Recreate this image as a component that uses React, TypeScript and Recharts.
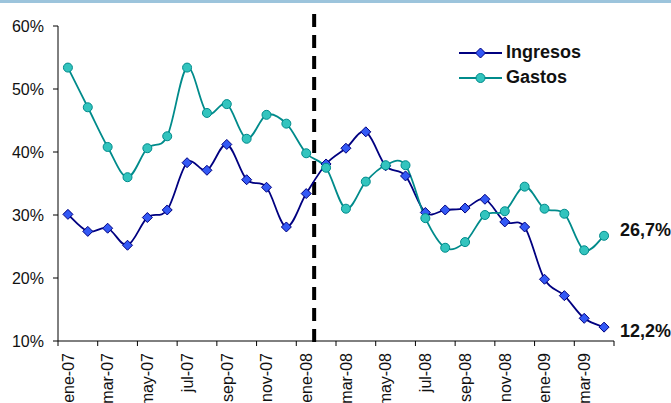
import React from 'react';
import {
  LineChart,
  Line,
  XAxis,
  YAxis,
  ReferenceLine,
  Legend,
  LabelList,
} from 'recharts';

// Monthly categories, ene-07 .. abr-09
const MONTHS = [
  'ene-07', 'feb-07', 'mar-07', 'abr-07', 'may-07', 'jun-07', 'jul-07', 'ago-07',
  'sep-07', 'oct-07', 'nov-07', 'dic-07', 'ene-08', 'feb-08', 'mar-08', 'abr-08',
  'may-08', 'jun-08', 'jul-08', 'ago-08', 'sep-08', 'oct-08', 'nov-08', 'dic-08',
  'ene-09', 'feb-09', 'mar-09', 'abr-09',
];

// Series values, in percent
const INGRESOS = [
  30.1, 27.4, 27.9, 25.2, 29.6, 30.8, 38.3, 37.1, 41.2, 35.6, 34.4, 28.1, 33.4, 38.1,
  40.6, 43.2, 37.8, 36.2, 30.4, 30.8, 31.1, 32.5, 28.9, 28.1, 19.8, 17.2, 13.6, 12.2,
];
const GASTOS = [
  53.4, 47.1, 40.8, 36.0, 40.6, 42.5, 53.4, 46.2, 47.6, 42.1, 45.9, 44.5, 39.8, 37.5,
  31.0, 35.3, 37.9, 37.9, 29.5, 24.8, 25.7, 30.0, 30.6, 34.5, 31.0, 30.2, 24.4, 26.7,
];

const Y_TICKS = [10, 20, 30, 40, 50, 60];
// Boundary between the two periods (category units)
const BREAK_POS = 12.9;

const FONT = '"Liberation Sans", Arial, sans-serif';
const NAVY = '#000080';
const BLUE_FILL = '#3359F5';
const TEAL = '#008B8B';
const TEAL_FILL = '#33C4BE';

const data = MONTHS.map((month, i) => ({
  pos: i + 0.5,
  month,
  ingresos: INGRESOS[i],
  gastos: GASTOS[i],
}));

// Boundary ticks (integers) carry tick marks, mid ticks (x.5) carry month labels
const X_TICKS: number[] = [];
for (let i = 0; i <= MONTHS.length; i += 2) {
  X_TICKS.push(i);
  if (i < MONTHS.length) X_TICKS.push(i + 0.5);
}

// Smoothed line, Catmull-Rom style Bezier segments
function smoothCurve(context: any) {
  let pts: number[][] = [];
  return {
    areaStart() {},
    areaEnd() {},
    lineStart() {
      pts = [];
    },
    point(x: number, y: number) {
      pts.push([+x, +y]);
    },
    lineEnd() {
      const n = pts.length;
      if (!n) return;
      context.moveTo(pts[0][0], pts[0][1]);
      for (let i = 0; i < n - 1; i++) {
        const p0 = pts[Math.max(i - 1, 0)];
        const p1 = pts[i];
        const p2 = pts[i + 1];
        const p3 = pts[Math.min(i + 2, n - 1)];
        context.bezierCurveTo(
          p1[0] + (p2[0] - p0[0]) / 6,
          p1[1] + (p2[1] - p0[1]) / 6,
          p2[0] - (p3[0] - p1[0]) / 6,
          p2[1] - (p3[1] - p1[1]) / 6,
          p2[0],
          p2[1]
        );
      }
    },
  };
}

const Diamond = (props: any) => {
  const { cx, cy } = props;
  if (cx == null || cy == null) return null;
  const r = 5;
  return (
    <path
      d={`M${cx},${cy - r}L${cx + r},${cy}L${cx},${cy + r}L${cx - r},${cy}Z`}
      fill={BLUE_FILL}
      stroke={NAVY}
      strokeWidth={1}
    />
  );
};

const Dot = (props: any) => {
  const { cx, cy } = props;
  if (cx == null || cy == null) return null;
  return <circle cx={cx} cy={cy} r={4.5} fill={TEAL_FILL} stroke={TEAL} strokeWidth={1} />;
};

const XTick = (props: any) => {
  const { x, y, payload } = props;
  const v = payload.value as number;
  if (Number.isInteger(v)) {
    return <line x1={x} y1={y} x2={x} y2={y + 5} stroke="#000" strokeWidth={1} />;
  }
  const label = MONTHS[Math.floor(v)];
  return (
    <text
      x={x}
      y={y + 12}
      dy="0.36em"
      transform={`rotate(-90, ${x}, ${y + 12})`}
      textAnchor="end"
      fontFamily={FONT}
      fontSize={16}
      fill="#111"
    >
      {label}
    </text>
  );
};

const fmt = (v: number) => v.toFixed(1).replace('.', ',') + '%';

const endLabel = (dy: number) => (props: any) => {
  const { x, y, value, index } = props;
  if (index !== MONTHS.length - 1) return null;
  return (
    <text
      x={x + 16}
      y={y + dy}
      dy="0.36em"
      fontFamily={FONT}
      fontSize={18}
      fontWeight="bold"
      fill="#111"
    >
      {fmt(value)}
    </text>
  );
};

const SERIES = [
  { name: 'Ingresos', stroke: NAVY, marker: 'diamond' },
  { name: 'Gastos', stroke: TEAL, marker: 'circle' },
];

const LegendBox = () => (
  <div style={{ fontFamily: FONT, fontWeight: 'bold', fontSize: 18, color: '#111' }}>
    {SERIES.map((s) => (
      <div key={s.name} style={{ display: 'flex', alignItems: 'center', height: 25 }}>
        <svg width={43} height={12} style={{ display: 'block' }}>
          <line x1={0} y1={6} x2={43} y2={6} stroke={s.stroke} strokeWidth={1.8} />
          {s.marker === 'diamond' ? (
            <Diamond cx={21.5} cy={6} />
          ) : (
            <Dot cx={21.5} cy={6} />
          )}
        </svg>
        <span style={{ marginLeft: 4, lineHeight: '25px' }}>{s.name}</span>
      </div>
    ))}
  </div>
);

export default function App() {
  return (
    <div
      style={{
        position: 'absolute',
        left: 0,
        top: 0,
        width: 671,
        height: 403,
        background: '#fff',
        overflow: 'hidden',
      }}
    >
      <div
        style={{
          position: 'absolute',
          left: 0,
          top: 0,
          width: 671,
          height: 3,
          background: '#9CC4DC',
        }}
      />
      <LineChart
        width={671}
        height={403}
        data={data}
        margin={{ top: 26, right: 57, bottom: 0, left: 0 }}
      >
        <XAxis
          dataKey="pos"
          type="number"
          domain={[0, MONTHS.length]}
          ticks={X_TICKS}
          interval={0}
          tick={<XTick />}
          tickLine={false}
          tickSize={0}
          tickMargin={0}
          axisLine={{ stroke: '#000', strokeWidth: 1 }}
          height={62}
        />
        <YAxis
          type="number"
          domain={[10, 60]}
          ticks={Y_TICKS}
          interval={0}
          tickFormatter={(v: number) => `${v}%`}
          width={58}
          tickSize={5}
          tickMargin={9}
          tickLine={{ stroke: '#000' }}
          axisLine={{ stroke: '#000', strokeWidth: 1 }}
          tick={{ fontFamily: FONT, fontSize: 16, fill: '#111' }}
        />
        <ReferenceLine
          segment={[
            { x: BREAK_POS, y: 61.9 },
            { x: BREAK_POS, y: 9.5 },
          ]}
          ifOverflow="visible"
          stroke="#000"
          strokeWidth={4}
          strokeDasharray="13 8"
        />
        <Legend
          verticalAlign="middle"
          align="center"
          layout="horizontal"
          content={() => <LegendBox />}
          wrapperStyle={{ left: 459, top: 40, width: 'auto', height: 'auto' }}
        />
        <Line
          name="Ingresos"
          dataKey="ingresos"
          type={smoothCurve as any}
          stroke={NAVY}
          strokeWidth={1.8}
          dot={<Diamond />}
          activeDot={false}
          isAnimationActive={false}
        >
          <LabelList dataKey="ingresos" content={endLabel(3)} />
        </Line>
        <Line
          name="Gastos"
          dataKey="gastos"
          type={smoothCurve as any}
          stroke={TEAL}
          strokeWidth={1.8}
          dot={<Dot />}
          activeDot={false}
          isAnimationActive={false}
        >
          <LabelList dataKey="gastos" content={endLabel(-6)} />
        </Line>
      </LineChart>
    </div>
  );
}
